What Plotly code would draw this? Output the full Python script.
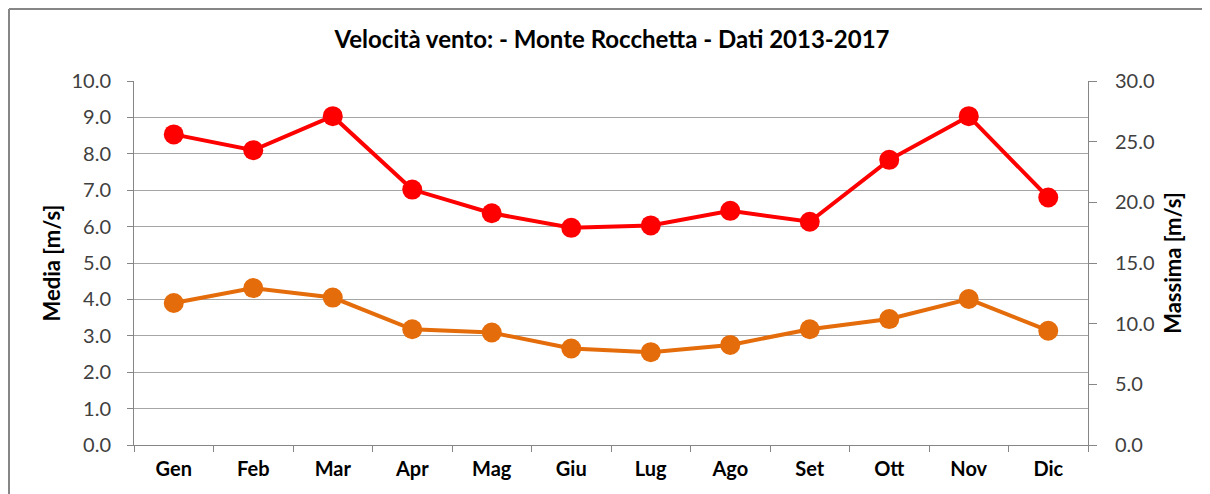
import plotly.graph_objects as go

mesi = ["Gen", "Feb", "Mar", "Apr", "Mag", "Giu", "Lug", "Ago", "Set", "Ott", "Nov", "Dic"]
media = [3.90, 4.31, 4.05, 3.18, 3.09, 2.65, 2.55, 2.75, 3.18, 3.46, 4.01, 3.14]
massima = [25.6, 24.3, 27.1, 21.05, 19.1, 17.9, 18.1, 19.3, 18.4, 23.5, 27.1, 20.4]
left_ticks = [0, 1, 2, 3, 4, 5, 6, 7, 8, 9, 10]
right_ticks = [0, 5, 10, 15, 20, 25, 30]

FONT = "Lato"
OFF = 8  # page body margin offset
W, H = 1210 - OFF, 494 - OFF
ml, mt = 134 - OFF, 81 - OFF
mr = W - (1088 - OFF)
mb = H - (445 - OFF)
pw, ph = W - ml - mr, H - mt - mb

fig = go.Figure()
fig.add_trace(go.Scatter(
    x=mesi, y=media, name="Media", mode="lines+markers",
    line=dict(color="#E46C0A", width=4),
    marker=dict(size=20, color="#E46C0A"),
    yaxis="y",
))
fig.add_trace(go.Scatter(
    x=mesi, y=massima, name="Massima", mode="lines+markers",
    line=dict(color="#FF0000", width=4),
    marker=dict(size=20, color="#FF0000"),
    yaxis="y2",
))

def px_x(p):
    return (p - OFF - ml) / pw

def px_y(p):
    return (H - mb - (p - OFF)) / ph

fig.update_layout(
    width=W, height=H,
    margin=dict(l=ml, r=mr, t=mt, b=mb, autoexpand=False),
    paper_bgcolor="white", plot_bgcolor="white",
    showlegend=False,
    font=dict(family=FONT, color="#404040"),
    title=dict(
        text="<b>Velocità vento: - Monte Rocchetta - Dati 2013-2017</b>",
        x=(612 - OFF) / W, xanchor="center", y=1 - (40 - OFF) / H, yanchor="middle",
        font=dict(family=FONT, size=24, color="#000000"),
    ),
    xaxis=dict(
        type="category", range=[-0.5, 11.5],
        tickson="boundaries", ticks="outside", ticklen=6, tickcolor="#868686",
        showline=True, linecolor="#868686", linewidth=1,
        showgrid=False,
        tickfont=dict(family=FONT, size=20, color="#000000", weight="bold"),
        ticklabelstandoff=6,
    ),
    yaxis=dict(
        range=[0, 10], tickvals=left_ticks, tickformat=".1f",
        ticks="outside", ticklen=6, tickcolor="#868686",
        showline=True, linecolor="#868686", linewidth=1,
        showgrid=True, gridcolor="#A6A6A6", gridwidth=1,
        zeroline=False,
        tickfont=dict(family=FONT, size=20, color="#404040"),
        ticklabelstandoff=12,
        title=dict(text="<b>Media [m/s]</b>", font=dict(family=FONT, size=22, color="#000000"), standoff=4),
    ),
    yaxis2=dict(
        range=[0, 30], tickvals=right_ticks, tickformat=".1f",
        overlaying="y", side="right",
        ticks="outside", ticklen=8, tickcolor="#868686",
        showline=True, linecolor="#868686", linewidth=1,
        showgrid=False, zeroline=False,
        tickfont=dict(family=FONT, size=20, color="#404040"),
        ticklabelstandoff=14,
        title=dict(text="<b>Massima [m/s]</b>", font=dict(family=FONT, size=22, color="#000000"), standoff=12),
    ),
)

# chart-area frame (top and left edges visible in the reference)
fig.add_shape(
    type="line", xref="paper", yref="paper",
    x0=px_x(9), x1=px_x(1230), y0=px_y(9), y1=px_y(9),
    line=dict(color="#868686", width=2), layer="below",
)
fig.add_shape(
    type="line", xref="paper", yref="paper",
    x0=px_x(9), x1=px_x(9), y0=px_y(9), y1=px_y(520),
    line=dict(color="#868686", width=2), layer="below",
)

fig.write_html("out.html")
